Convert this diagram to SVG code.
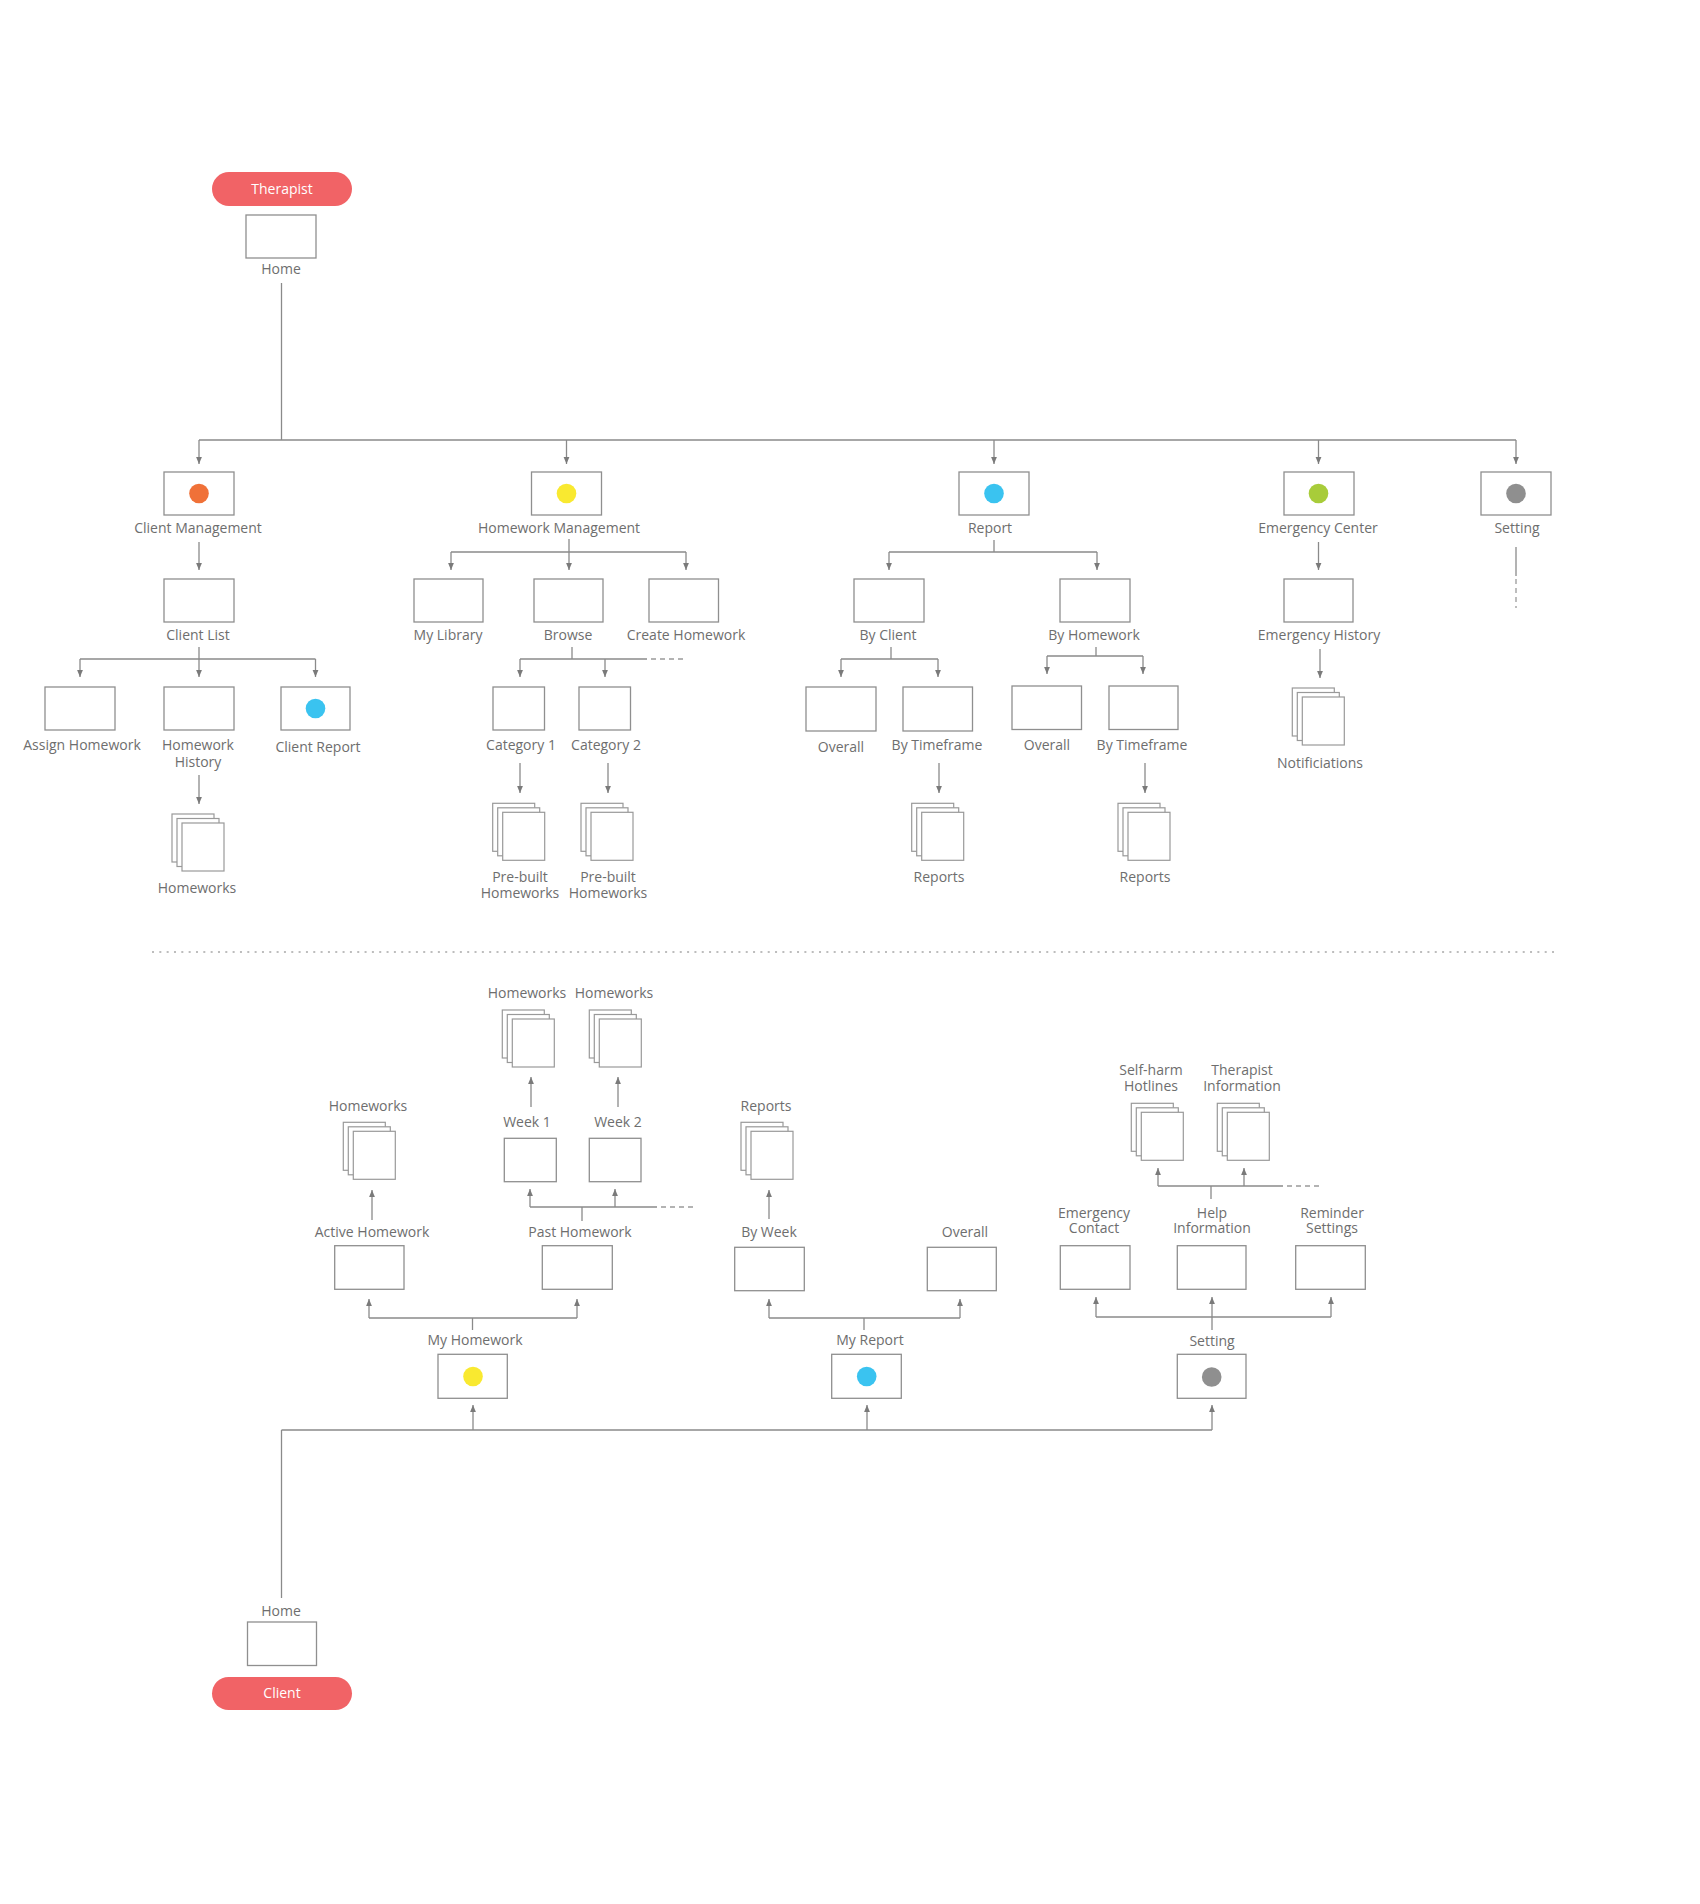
<svg xmlns="http://www.w3.org/2000/svg" xmlns:xlink="http://www.w3.org/1999/xlink" width="1700" height="1904" viewBox="0 0 1700 1904">
<style>
  .bg{fill:#ffffff}
  .box{fill:#ffffff;stroke:#8f8f8f;stroke-width:1.3}
  .sh{fill:#ffffff;stroke:#999999;stroke-width:1.2}
  .t{font-family:"Open Sans","Liberation Sans",sans-serif;font-size:14px;fill:#6e6e6e;text-anchor:middle}
  .pt{font-family:"Open Sans","Liberation Sans",sans-serif;font-size:14px;fill:#ffffff;text-anchor:middle}
  .pill{fill:#f16366}
  .ln{fill:none;stroke:#8a8a8a;stroke-width:1.3}
  .ar{fill:none;stroke:#8a8a8a;stroke-width:1.3;marker-end:url(#ah)}
  .dash{fill:none;stroke:#9a9a9a;stroke-width:1.3;stroke-dasharray:5 4}
  .sep{fill:none;stroke:#bdbdbd;stroke-width:2;stroke-dasharray:2 5.33}
</style>
<defs>
  <marker id="ah" markerUnits="userSpaceOnUse" markerWidth="7" markerHeight="7" viewBox="0 0 7 7" refX="7" refY="3.5" orient="auto">
    <path d="M0,0.6 L7,3.5 L0,6.4 Z" fill="#7a7a7a"/>
  </marker>
  <g id="stack">
    <rect class="sh" x="0" y="0" width="42" height="48"/>
    <rect class="sh" x="5" y="4.5" width="42" height="48"/>
    <rect class="sh" x="10" y="9" width="42" height="48"/>
  </g>
</defs>
<rect class="bg" x="0" y="0" width="1700" height="1904"/>

<!-- connectors -->
<g id="connectors">
  <!-- therapist top -->
  <line class="ln" x1="281.5" y1="283" x2="281.5" y2="440"/>
  <line class="ln" x1="199" y1="440" x2="1516" y2="440"/>
  <line class="ar" x1="199" y1="440" x2="199" y2="464"/>
  <line class="ar" x1="566.5" y1="440" x2="566.5" y2="464"/>
  <line class="ar" x1="994" y1="440" x2="994" y2="464"/>
  <line class="ar" x1="1318.5" y1="440" x2="1318.5" y2="464"/>
  <line class="ar" x1="1516" y1="440" x2="1516" y2="464"/>
  <!-- client management -->
  <line class="ar" x1="199" y1="542" x2="199" y2="570"/>
  <line class="ln" x1="199" y1="647" x2="199" y2="659"/>
  <line class="ln" x1="80" y1="659" x2="315.5" y2="659"/>
  <line class="ar" x1="80" y1="659" x2="80" y2="677"/>
  <line class="ar" x1="199" y1="659" x2="199" y2="677"/>
  <line class="ar" x1="315.5" y1="659" x2="315.5" y2="677"/>
  <line class="ar" x1="199" y1="775" x2="199" y2="804"/>
  <!-- homework management -->
  <line class="ln" x1="569" y1="539" x2="569" y2="552"/>
  <line class="ln" x1="451" y1="552" x2="686" y2="552"/>
  <line class="ar" x1="451" y1="552" x2="451" y2="570"/>
  <line class="ar" x1="569" y1="552" x2="569" y2="570"/>
  <line class="ar" x1="686" y1="552" x2="686" y2="570"/>
  <line class="ln" x1="572" y1="647" x2="572" y2="659"/>
  <line class="ln" x1="520" y1="659" x2="647" y2="659"/>
  <line class="dash" x1="651" y1="659" x2="683" y2="659"/>
  <line class="ar" x1="520" y1="659" x2="520" y2="677"/>
  <line class="ar" x1="605" y1="659" x2="605" y2="677"/>
  <line class="ar" x1="520" y1="763" x2="520" y2="793"/>
  <line class="ar" x1="608" y1="763" x2="608" y2="793"/>
  <!-- report -->
  <line class="ln" x1="994" y1="540" x2="994" y2="552"/>
  <line class="ln" x1="889" y1="552" x2="1097" y2="552"/>
  <line class="ar" x1="889" y1="552" x2="889" y2="570"/>
  <line class="ar" x1="1097" y1="552" x2="1097" y2="570"/>
  <line class="ln" x1="891" y1="647" x2="891" y2="659"/>
  <line class="ln" x1="841" y1="659" x2="938" y2="659"/>
  <line class="ar" x1="841" y1="659" x2="841" y2="677"/>
  <line class="ar" x1="938" y1="659" x2="938" y2="677"/>
  <line class="ln" x1="1096" y1="647" x2="1096" y2="656"/>
  <line class="ln" x1="1047" y1="656" x2="1143" y2="656"/>
  <line class="ar" x1="1047" y1="656" x2="1047" y2="674"/>
  <line class="ar" x1="1143" y1="656" x2="1143" y2="674"/>
  <line class="ar" x1="939" y1="763" x2="939" y2="793"/>
  <line class="ar" x1="1145" y1="763" x2="1145" y2="793"/>
  <!-- emergency -->
  <line class="ar" x1="1318.5" y1="542" x2="1318.5" y2="570"/>
  <line class="ar" x1="1320" y1="649" x2="1320" y2="678"/>
  <!-- setting -->
  <line class="ln" x1="1516" y1="547" x2="1516" y2="576"/>
  <line class="dash" x1="1516" y1="579" x2="1516" y2="608"/>

  <!-- separator -->
  <line class="sep" x1="152" y1="952" x2="1554" y2="952"/>

  <!-- client bottom -->
  <line class="ln" x1="281.5" y1="1598" x2="281.5" y2="1430"/>
  <line class="ln" x1="281.5" y1="1430" x2="1212" y2="1430"/>
  <line class="ar" x1="473" y1="1430" x2="473" y2="1405"/>
  <line class="ar" x1="867" y1="1430" x2="867" y2="1405"/>
  <line class="ar" x1="1212" y1="1430" x2="1212" y2="1405"/>
  <!-- my homework -->
  <line class="ln" x1="472.5" y1="1330" x2="472.5" y2="1318"/>
  <line class="ln" x1="369" y1="1318" x2="577" y2="1318"/>
  <line class="ar" x1="369" y1="1318" x2="369" y2="1299"/>
  <line class="ar" x1="577" y1="1318" x2="577" y2="1299"/>
  <line class="ar" x1="372" y1="1220" x2="372" y2="1190"/>
  <line class="ln" x1="582" y1="1221" x2="582" y2="1207"/>
  <line class="ln" x1="530" y1="1207" x2="657" y2="1207"/>
  <line class="dash" x1="661" y1="1207" x2="693" y2="1207"/>
  <line class="ar" x1="530" y1="1207" x2="530" y2="1189"/>
  <line class="ar" x1="615" y1="1207" x2="615" y2="1189"/>
  <line class="ar" x1="531" y1="1107" x2="531" y2="1077"/>
  <line class="ar" x1="618" y1="1107" x2="618" y2="1077"/>
  <!-- my report -->
  <line class="ln" x1="864" y1="1330" x2="864" y2="1318"/>
  <line class="ln" x1="769" y1="1318" x2="960" y2="1318"/>
  <line class="ar" x1="769" y1="1318" x2="769" y2="1299"/>
  <line class="ar" x1="960" y1="1318" x2="960" y2="1299"/>
  <line class="ar" x1="769" y1="1219" x2="769" y2="1190"/>
  <!-- setting (client) -->
  <line class="ar" x1="1212" y1="1330" x2="1212" y2="1297"/>
  <line class="ln" x1="1096" y1="1317" x2="1331" y2="1317"/>
  <line class="ar" x1="1096" y1="1317" x2="1096" y2="1297"/>
  <line class="ar" x1="1331" y1="1317" x2="1331" y2="1297"/>
  <line class="ln" x1="1211" y1="1199" x2="1211" y2="1186"/>
  <line class="ln" x1="1158" y1="1186" x2="1283" y2="1186"/>
  <line class="dash" x1="1287" y1="1186" x2="1322" y2="1186"/>
  <line class="ar" x1="1158" y1="1186" x2="1158" y2="1168"/>
  <line class="ar" x1="1244" y1="1186" x2="1244" y2="1168"/>
</g>

<!-- therapist nodes -->
<g id="therapist"><rect class="pill" x="212" y="172" width="140" height="34" rx="17"/><text class="pt" x="282" y="194">Therapist</text></g>
<g id="t-home"><rect class="box" x="246" y="215" width="70" height="43"/><text class="t" x="281" y="274">Home</text></g>

<g id="client-management"><rect class="box" x="164" y="472" width="70" height="43"/><circle cx="199" cy="493.5" r="9.8" fill="#f07138"/><text class="t" x="198" y="533">Client Management</text></g>
<g id="homework-management"><rect class="box" x="531.5" y="472" width="70" height="43"/><circle cx="566.5" cy="493.5" r="9.8" fill="#f9e930"/><text class="t" x="559" y="533">Homework Management</text></g>
<g id="report"><rect class="box" x="959" y="472" width="70" height="43"/><circle cx="994" cy="493.5" r="9.8" fill="#3ac3f0"/><text class="t" x="990" y="533">Report</text></g>
<g id="emergency-center"><rect class="box" x="1284" y="472" width="70" height="43"/><circle cx="1318.5" cy="493.5" r="9.8" fill="#a8cc3a"/><text class="t" x="1318" y="533">Emergency Center</text></g>
<g id="t-setting"><rect class="box" x="1481" y="472" width="70" height="43"/><circle cx="1516" cy="493.5" r="9.8" fill="#8f8f8f"/><text class="t" x="1517" y="533">Setting</text></g>

<g id="client-list"><rect class="box" x="164" y="579" width="70" height="43"/><text class="t" x="198" y="640">Client List</text></g>
<g id="assign-homework"><rect class="box" x="45" y="687" width="70" height="43"/><text class="t" x="82" y="750">Assign Homework</text></g>
<g id="homework-history"><rect class="box" x="164" y="687" width="70" height="43"/><text class="t" x="198" y="750">Homework</text><text class="t" x="198" y="766.5">History</text></g>
<g id="client-report"><rect class="box" x="281" y="687" width="69" height="43"/><circle cx="315.5" cy="708.5" r="9.8" fill="#3ac3f0"/><text class="t" x="318" y="751.5">Client Report</text></g>
<g id="cm-homeworks"><use xlink:href="#stack" x="172" y="814"/><text class="t" x="197" y="893">Homeworks</text></g>

<g id="my-library"><rect class="box" x="414" y="579" width="69" height="43"/><text class="t" x="448" y="640">My Library</text></g>
<g id="browse"><rect class="box" x="534" y="579" width="69" height="43"/><text class="t" x="568" y="640">Browse</text></g>
<g id="create-homework"><rect class="box" x="649" y="579" width="69.5" height="43"/><text class="t" x="686" y="640">Create Homework</text></g>
<g id="category-1"><rect class="box" x="493" y="687" width="51.5" height="43"/><text class="t" x="521" y="750">Category 1</text></g>
<g id="category-2"><rect class="box" x="579" y="687" width="51.5" height="43"/><text class="t" x="606" y="750">Category 2</text></g>
<g id="prebuilt-1"><use xlink:href="#stack" x="492.7" y="803.3"/><text class="t" x="520" y="881.5">Pre-built</text><text class="t" x="520" y="897.5">Homeworks</text></g>
<g id="prebuilt-2"><use xlink:href="#stack" x="581" y="803.3"/><text class="t" x="608" y="881.5">Pre-built</text><text class="t" x="608" y="897.5">Homeworks</text></g>

<g id="by-client"><rect class="box" x="854" y="579" width="70" height="43"/><text class="t" x="888" y="640">By Client</text></g>
<g id="by-homework"><rect class="box" x="1060" y="579" width="70" height="43"/><text class="t" x="1094" y="640">By Homework</text></g>
<g id="overall-1"><rect class="box" x="806" y="687" width="70" height="44"/><text class="t" x="841" y="751.5">Overall</text></g>
<g id="by-timeframe-1"><rect class="box" x="903" y="687" width="69.5" height="44"/><text class="t" x="937" y="750">By Timeframe</text></g>
<g id="overall-2"><rect class="box" x="1012" y="686" width="69.5" height="43.5"/><text class="t" x="1047" y="750">Overall</text></g>
<g id="by-timeframe-2"><rect class="box" x="1109" y="686" width="69" height="43.5"/><text class="t" x="1142" y="750">By Timeframe</text></g>
<g id="reports-1"><use xlink:href="#stack" x="911.7" y="803.3"/><text class="t" x="939" y="881.5">Reports</text></g>
<g id="reports-2"><use xlink:href="#stack" x="1118" y="803.3"/><text class="t" x="1145" y="881.5">Reports</text></g>

<g id="emergency-history"><rect class="box" x="1284" y="579" width="69" height="43"/><text class="t" x="1319" y="640">Emergency History</text></g>
<g id="notifications"><use xlink:href="#stack" x="1292.3" y="688"/><text class="t" x="1320" y="768">Notificiations</text></g>

<!-- client nodes -->
<g id="client"><rect class="pill" x="212" y="1677" width="140" height="33" rx="16.5"/><text class="pt" x="282" y="1698">Client</text></g>
<g id="c-home"><rect class="box" x="247.5" y="1622" width="69" height="43.5"/><text class="t" x="281" y="1615.5">Home</text></g>

<g id="my-homework"><rect class="box" x="438" y="1354.3" width="69.3" height="44"/><circle cx="473" cy="1376.5" r="9.8" fill="#f9e930"/><text class="t" x="475" y="1345">My Homework</text></g>
<g id="my-report"><rect class="box" x="831.7" y="1354.3" width="69.6" height="44"/><circle cx="866.7" cy="1376.5" r="9.8" fill="#3ac3f0"/><text class="t" x="870" y="1345">My Report</text></g>
<g id="c-setting"><rect class="box" x="1177.3" y="1354.3" width="68.7" height="44"/><circle cx="1211.7" cy="1377" r="9.8" fill="#8f8f8f"/><text class="t" x="1212" y="1346">Setting</text></g>

<g id="active-homework"><rect class="box" x="334.7" y="1245.7" width="69.3" height="43.6"/><text class="t" x="372" y="1237">Active Homework</text></g>
<g id="past-homework"><rect class="box" x="542.3" y="1245.7" width="70" height="43.6"/><text class="t" x="580" y="1237">Past Homework</text></g>
<g id="active-homeworks"><use xlink:href="#stack" x="343.3" y="1122.3"/><text class="t" x="368" y="1110.5">Homeworks</text></g>
<g id="week-1"><rect class="box" x="504.3" y="1138.3" width="52" height="43.4"/><text class="t" x="527" y="1126.5">Week 1</text></g>
<g id="week-2"><rect class="box" x="589.3" y="1138.3" width="51.7" height="43.4"/><text class="t" x="618" y="1126.5">Week 2</text></g>
<g id="week1-homeworks"><use xlink:href="#stack" x="502.3" y="1010"/><text class="t" x="527" y="998">Homeworks</text></g>
<g id="week2-homeworks"><use xlink:href="#stack" x="589.3" y="1010"/><text class="t" x="614" y="998">Homeworks</text></g>

<g id="by-week"><rect class="box" x="734.7" y="1247.3" width="69.6" height="43.4"/><text class="t" x="769" y="1236.5">By Week</text></g>
<g id="c-overall"><rect class="box" x="927.3" y="1247.3" width="69" height="43.4"/><text class="t" x="965" y="1236.5">Overall</text></g>
<g id="c-reports"><use xlink:href="#stack" x="741" y="1122.3"/><text class="t" x="766" y="1111">Reports</text></g>

<g id="emergency-contact"><rect class="box" x="1060.3" y="1245.7" width="69.7" height="43.6"/><text class="t" x="1094" y="1217.5">Emergency</text><text class="t" x="1094" y="1233">Contact</text></g>
<g id="help-information"><rect class="box" x="1177.3" y="1245.7" width="68.7" height="43.6"/><text class="t" x="1212" y="1217.5">Help</text><text class="t" x="1212" y="1233">Information</text></g>
<g id="reminder-settings"><rect class="box" x="1295.7" y="1245.7" width="69.6" height="43.6"/><text class="t" x="1332" y="1217.5">Reminder</text><text class="t" x="1332" y="1233">Settings</text></g>
<g id="self-harm-hotlines"><use xlink:href="#stack" x="1131.3" y="1103.3"/><text class="t" x="1151" y="1075">Self-harm</text><text class="t" x="1151" y="1090.5">Hotlines</text></g>
<g id="therapist-information"><use xlink:href="#stack" x="1217.3" y="1103.3"/><text class="t" x="1242" y="1075">Therapist</text><text class="t" x="1242" y="1090.5">Information</text></g>
</svg>
